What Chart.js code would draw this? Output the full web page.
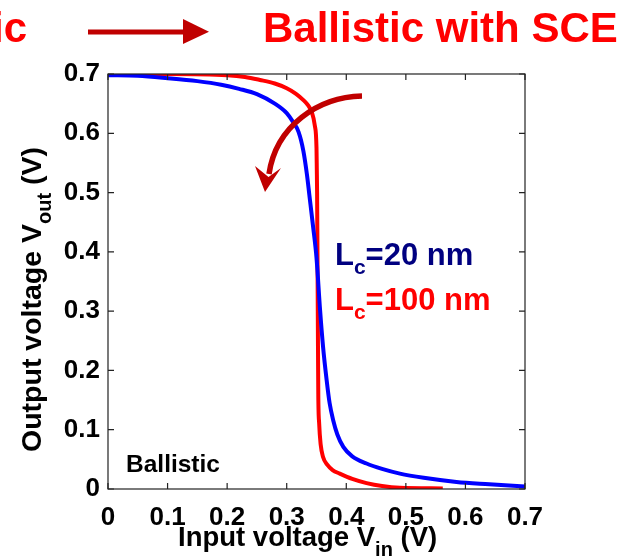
<!DOCTYPE html>
<html>
<head>
<meta charset="utf-8">
<script src="https://cdn.jsdelivr.net/npm/chart.js@4.4.0/dist/chart.umd.min.js"></script>
<style>
    html, body { margin: 0; padding: 0; background: #ffffff; }
    #chart { display: block; }
</style>
</head>
<body>
<canvas id="chart" width="625" height="559"></canvas>
<script>
// Data (Vin in V, Vout in V)
const blueVin = [0, 0.05, 0.1, 0.15, 0.19, 0.22, 0.25, 0.28, 0.3, 0.31, 0.32, 0.328, 0.334, 0.338, 0.344, 0.35, 0.356, 0.361, 0.367, 0.372, 0.378, 0.385, 0.395, 0.41, 0.434, 0.46, 0.49, 0.53, 0.585, 0.64, 0.7];
const blueVout = [0.698, 0.697, 0.693, 0.688, 0.682, 0.675, 0.666, 0.65, 0.634, 0.62, 0.602, 0.57, 0.53, 0.496, 0.445, 0.39, 0.302, 0.24, 0.184, 0.145, 0.116, 0.092, 0.071, 0.055, 0.043, 0.034, 0.026, 0.019, 0.012, 0.008, 0.004];

const redVin = [0, 0.1, 0.2, 0.23, 0.255, 0.28, 0.3, 0.315, 0.328, 0.336, 0.342, 0.347, 0.35, 0.3505, 0.351, 0.3515, 0.352, 0.3525, 0.353, 0.3545, 0.357, 0.361, 0.368, 0.377, 0.389, 0.41, 0.434, 0.46, 0.49, 0.562];
const redVout = [0.7, 0.7, 0.698, 0.695, 0.69, 0.684, 0.676, 0.667, 0.656, 0.647, 0.636, 0.614, 0.575, 0.54, 0.5, 0.42, 0.33, 0.24, 0.16, 0.11, 0.075, 0.054, 0.041, 0.032, 0.026, 0.017, 0.01, 0.005, 0.002, 0.001];

const xTickValues = [0, 0.1, 0.2, 0.3, 0.4, 0.5, 0.6, 0.7];
const xTickLabels = ['0', '0.1', '0.2', '0.3', '0.4', '0.5', '0.6', '0.7'];
const yTickValues = [0, 0.1, 0.2, 0.3, 0.4, 0.5, 0.6, 0.7];
const yTickLabels = ['0', '0.1', '0.2', '0.3', '0.4', '0.5', '0.6', '0.7'];

const FONT = '"Liberation Sans", Arial, Helvetica, sans-serif';

function toPoints(xs, ys) {
    return xs.map((x, i) => ({ x: x, y: ys[i] }));
}

// Draw text with a smaller subscript right after it
function drawSubText(ctx, x, y, main, sub, rest, size, subSize, subDrop) {
    ctx.font = `bold ${size}px ${FONT}`;
    ctx.fillText(main, x, y);
    let cx = x + ctx.measureText(main).width;
    ctx.font = `bold ${subSize}px ${FONT}`;
    ctx.fillText(sub, cx, y + subDrop);
    cx += ctx.measureText(sub).width;
    ctx.font = `bold ${size}px ${FONT}`;
    ctx.fillText(rest, cx, y);
}

// Inward ticks on all four sides plus the box
const framePlugin = {
    id: 'frame',
    afterDatasetsDraw(chart) {
        const { ctx, chartArea: a, scales } = chart;
        ctx.save();
        ctx.strokeStyle = '#222222';
        ctx.lineWidth = 1.2;
        ctx.strokeRect(a.left, a.top, a.right - a.left, a.bottom - a.top);
        const len = 6;
        ctx.beginPath();
        xTickValues.forEach(v => {
            const px = scales.x.getPixelForValue(v);
            ctx.moveTo(px, a.bottom); ctx.lineTo(px, a.bottom - len);
            ctx.moveTo(px, a.top); ctx.lineTo(px, a.top + len);
        });
        yTickValues.forEach(v => {
            const py = scales.y.getPixelForValue(v);
            ctx.moveTo(a.left, py); ctx.lineTo(a.left + len, py);
            ctx.moveTo(a.right, py); ctx.lineTo(a.right - len, py);
        });
        ctx.stroke();
        ctx.restore();
    }
};

// Titles, labels and arrows
const annotationPlugin = {
    id: 'annotations',
    afterDraw(chart) {
        const ctx = chart.ctx;
        ctx.save();
        ctx.textBaseline = 'alphabetic';
        ctx.textAlign = 'left';

        // Top heading
        ctx.fillStyle = '#ff0000';
        ctx.font = `bold 42px ${FONT}`;
        ctx.textAlign = 'right';
        ctx.fillText('Ballistic', 27, 42);
        ctx.textAlign = 'left';
        ctx.fillText('Ballistic with SCE', 263, 42);

        // Straight arrow
        ctx.fillStyle = '#c00000';
        ctx.fillRect(88, 29.5, 98, 5);
        ctx.beginPath();
        ctx.moveTo(183, 19);
        ctx.lineTo(209, 31.8);
        ctx.lineTo(183, 44);
        ctx.closePath();
        ctx.fill();

        // Curved arrow
        ctx.strokeStyle = '#c00000';
        ctx.lineWidth = 5.5;
        ctx.beginPath();
        ctx.moveTo(362, 96);
        ctx.bezierCurveTo(318, 97, 276, 126, 269, 174);
        ctx.stroke();
        ctx.beginPath();
        ctx.moveTo(265, 192);
        ctx.lineTo(255, 166);
        ctx.lineTo(268.5, 177);
        ctx.lineTo(281, 168);
        ctx.closePath();
        ctx.fill();

        // Curve labels
        ctx.fillStyle = '#000080';
        drawSubText(ctx, 335, 265, 'L', 'c', '=20 nm', 31, 21, 9);
        ctx.fillStyle = '#ff0000';
        drawSubText(ctx, 335, 310, 'L', 'c', '=100 nm', 31, 21, 9);

        ctx.fillStyle = '#000000';
        ctx.font = `bold 24.5px ${FONT}`;
        ctx.fillText('Ballistic', 126, 472);

        // Axis titles
        drawSubText(ctx, 178, 546, 'Input voltage V', 'in', ' (V)', 27.5, 20, 10);

        ctx.translate(41, 452);
        ctx.rotate(-Math.PI / 2);
        drawSubText(ctx, 0, 0, 'Output voltage V', 'out', ' (V)', 28.5, 20, 10);
        ctx.restore();
    }
};

const ctx = document.getElementById('chart').getContext('2d');
new Chart(ctx, {
    type: 'scatter',
    data: {
        datasets: [{
            label: 'Lc=20 nm',
            data: toPoints(blueVin, blueVout),
            showLine: true,
            borderColor: '#0000ff',
            borderWidth: 4,
            pointRadius: 0,
            cubicInterpolationMode: 'monotone',
            fill: false
        }, {
            label: 'Lc=100 nm',
            data: toPoints(redVin, redVout),
            showLine: true,
            borderColor: '#ff0000',
            borderWidth: 4,
            pointRadius: 0,
            cubicInterpolationMode: 'monotone',
            fill: false
        }]
    },
    options: {
        responsive: false,
        animation: false,
        layout: {
            padding: { left: 0, right: 100, top: 74, bottom: 0 }
        },
        plugins: {
            legend: { display: false },
            tooltip: { enabled: false }
        },
        scales: {
            x: {
                type: 'linear',
                min: 0,
                max: 0.7,
                afterBuildTicks: (scale) => {
                    scale.ticks = xTickValues.map(v => ({ value: v }));
                },
                afterFit: (scale) => { scale.height = 70; },
                grid: { display: false, drawTicks: false },
                border: { display: false },
                ticks: {
                    color: '#000000',
                    padding: 13,
                    maxRotation: 0,
                    autoSkip: false,
                    font: { family: FONT, size: 26, weight: 'bold' },
                    callback: (v, i) => xTickLabels[i]
                }
            },
            y: {
                type: 'linear',
                min: 0,
                max: 0.7,
                afterBuildTicks: (scale) => {
                    scale.ticks = yTickValues.map(v => ({ value: v }));
                },
                afterFit: (scale) => { scale.width = 108; },
                grid: { display: false, drawTicks: false },
                border: { display: false },
                ticks: {
                    color: '#000000',
                    padding: 8,
                    autoSkip: false,
                    font: { family: FONT, size: 26, weight: 'bold' },
                    callback: (v, i) => yTickLabels[i]
                }
            }
        }
    },
    plugins: [framePlugin, annotationPlugin]
});
</script>
</body>
</html>
